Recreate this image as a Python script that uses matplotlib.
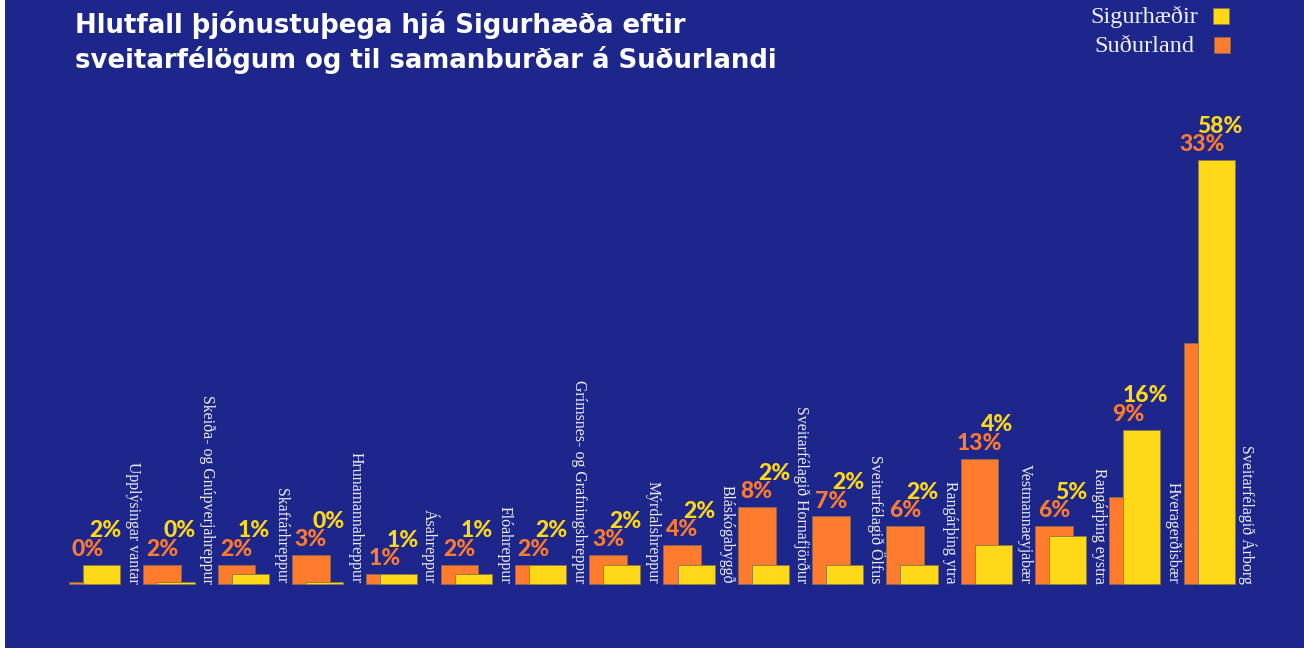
import matplotlib.pyplot as plt
from matplotlib.patches import Rectangle

# sveitarfélög og hlutföll (%)
sveitarfelog = ['Upplýsingar vantar', 'Skeiða- og Gnúpverjahreppur', 'Skaftárhreppur',
                'Hrunamannahreppur', 'Ásahreppur', 'Flóahreppur',
                'Grímsnes- og Grafningshreppur', 'Mýrdalshreppur', 'Bláskógabyggð',
                'Sveitarfélagið Hornafjörður', 'Sveitarfélagið Ölfus', 'Rangárþing ytra',
                'Vestmannaeyjabær', 'Rangárþing eystra', 'Hveragerðisbær',
                'Sveitarfélagið Árborg']
sudurland = [0.2, 2, 2, 3, 1, 2, 2, 3, 4, 8, 7, 6, 13, 6, 9, 33]
sigurhaedir = [2, 0.2, 1, 0.2, 1, 1, 2, 2, 2, 2, 2, 2, 4, 5, 16, 58]
# Árborg súlurnar eru styttar í upprunalegu myndinni
kvardi = [1.0] * 15 + [0.757]

navy = '#1D268A'
gulur = '#FFD817'
appelsinu = '#FF7B2E'
hvitur = '#EEEEF4'

fig = plt.figure(figsize=(13.04, 6.48), dpi=100)
fig.patch.set_facecolor('white')
ax = fig.add_axes([5 / 1304, 0, 1299 / 1304, 1])
ax.set_facecolor(navy)

px = 74.3  # pixlar á hóp
ax.set_xlim((5 - 69) / px, (1304 - 69) / px)
ax.set_ylim(-64 / 9.65, 584 / 9.65)
ax.axis('off')
ax.add_patch(Rectangle((0, 0), 1, 1, transform=ax.transAxes, color=navy, zorder=0))

for i, name in enumerate(sveitarfelog):
    o = sudurland[i] * kvardi[i]
    g = sigurhaedir[i] * kvardi[i]
    ax.bar(i, o, width=0.51, align='edge', color=appelsinu,
           edgecolor='#8a6a55', linewidth=0.6, zorder=2)
    ax.bar(i + 0.19, g, width=0.5, align='edge', color=gulur,
           edgecolor='#8a7a45', linewidth=0.6, zorder=3)
    top = max(o, g)
    ax.text(i + 0.255, top + 1.6, f'{sudurland[i]:.0f}%', color=appelsinu,
            fontsize=16.5, fontweight='black', family=['Lato', 'DejaVu Sans'],
            ha='center', va='center', zorder=4)
    ax.text(i + 0.49, top + 3.5, f'{sigurhaedir[i]:.0f}%', color=gulur,
            fontsize=16.5, fontweight='black', family=['Lato', 'DejaVu Sans'],
            ha='center', va='center', zorder=4)
    ax.text(i + 0.86, 0.05, name, rotation=-90, color=hvitur, fontsize=11.4,
            family='Liberation Serif', ha='center', va='bottom', zorder=4)

fig.text(75 / 1304, 1 - 11 / 648,
         'Hlutfall þjónustuþega hjá Sigurhæða eftir\nsveitarfélögum og til samanburðar á Suðurlandi',
         color='white', fontsize=18.7, fontweight='bold', family='DejaVu Sans',
         ha='left', va='top', linespacing=1.33)

# skýringar
fig.text(1198 / 1304, 1 - 17 / 648, 'Sigurhæðir', color=hvitur, fontsize=17.5,
         family='Liberation Serif', ha='right', va='center')
fig.text(1194 / 1304, 1 - 46 / 648, 'Suðurland', color=hvitur, fontsize=17.5,
         family='Liberation Serif', ha='right', va='center')
fig.patches.append(Rectangle((1213 / 1304, 1 - 24 / 648), 16 / 1304, 16 / 648,
                             transform=fig.transFigure, facecolor=gulur,
                             edgecolor='#8a7a45', linewidth=0.6))
fig.patches.append(Rectangle((1214 / 1304, 1 - 53 / 648), 16 / 1304, 16 / 648,
                             transform=fig.transFigure, facecolor=appelsinu,
                             edgecolor='#8a6a55', linewidth=0.6))

fig.savefig('out.png', dpi=100, facecolor=fig.get_facecolor())
